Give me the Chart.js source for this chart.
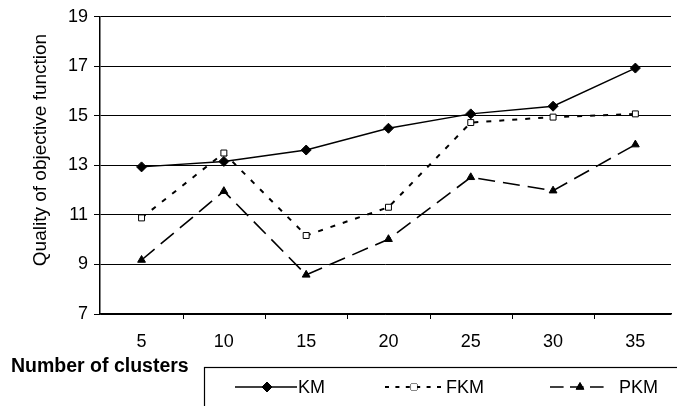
<!DOCTYPE html>
<html>
<head>
<meta charset="utf-8">
<script src="https://cdn.jsdelivr.net/npm/chart.js@4"></script>
<style>
  html, body { margin: 0; padding: 0; background: #fff; overflow: hidden; }
</style>
</head>
<body>
<canvas id="quality-chart" width="677" height="406"></canvas>
<script>
const clusters = [5, 10, 15, 20, 25, 30, 35];
const kmValues = [12.94, 13.16, 13.62, 14.5, 15.08, 15.39, 16.93];
const fkmValues = [10.88, 13.5, 10.17, 11.31, 14.73, 14.95, 15.08];
const pkmValues = [9.18, 11.96, 8.58, 10.02, 12.52, 11.98, 13.84];
const yTicks = [7, 9, 11, 13, 15, 17, 19];
// tick marks sit between the cluster labels
const xTickMarks = [7.5, 12.5, 17.5, 22.5, 27.5, 32.5];

const font = 'Arial, "Liberation Sans", sans-serif';

const series = [
    { label: 'KM', data: kmValues, dash: [], width: 1.4, point: 'rectRot', radius: 5, fill: '#000' },
    { label: 'FKM', data: fkmValues, dash: [5, 8], width: 2, point: 'rect', radius: 4.2, fill: '#fff' },
    { label: 'PKM', data: pkmValues, dash: [17, 8], width: 1.6, point: 'triangle', radius: 4.5, fill: '#000' }
];

// axis titles, x tick marks and the boxed legend
const decorations = {
    id: 'decorations',
    afterDraw(chart) {
        const ctx = chart.ctx;
        const xs = chart.scales.x;
        ctx.save();

        ctx.strokeStyle = '#000';
        ctx.lineWidth = 1;
        xTickMarks.forEach(v => {
            const px = Math.round(xs.getPixelForValue(v)) + 0.5;
            ctx.beginPath();
            ctx.moveTo(px, xs.top);
            ctx.lineTo(px, xs.top + 5);
            ctx.stroke();
        });

        ctx.fillStyle = '#000';
        ctx.textBaseline = 'middle';

        ctx.save();
        ctx.translate(41, 150);
        ctx.rotate(-Math.PI / 2);
        ctx.textAlign = 'center';
        ctx.font = '19px ' + font;
        ctx.fillText('Quality of objective function', 0, 0);
        ctx.restore();

        ctx.font = 'bold 19.5px ' + font;
        ctx.fillText('Number of clusters', 11, 367);

        ctx.lineWidth = 1.2;
        ctx.strokeRect(204.5, 367.5, 520, 60);

        const items = [
            { x0: 235, x1: 297, mx: 267, tx: 298 },
            { x0: 385, x1: 444, mx: 414, tx: 446 },
            { x0: 550, x1: 610, mx: 580, tx: 619 }
        ];
        const y = 387;
        items.forEach((it, i) => {
            const s = series[i];
            ctx.setLineDash(s.dash.map(d => d * 0.8));
            ctx.lineWidth = s.width;
            ctx.beginPath();
            ctx.moveTo(it.x0, y);
            ctx.lineTo(it.x1, y);
            ctx.stroke();
            ctx.setLineDash([]);
            ctx.lineWidth = 1;
            ctx.fillStyle = s.fill;
            Chart.helpers.drawPoint(ctx, { pointStyle: s.point, radius: s.radius, rotation: 0, borderWidth: 1 }, it.mx, y);
            ctx.fill();
            ctx.fillStyle = '#000';
            ctx.font = '18px ' + font;
            ctx.fillText(s.label, it.tx, y + 1);
        });
        ctx.restore();
    }
};

new Chart(document.getElementById('quality-chart'), {
    type: 'line',
    data: {
        datasets: series.map(s => ({
            label: s.label,
            data: s.data.map((v, i) => ({ x: clusters[i], y: v })),
            borderColor: '#000',
            borderWidth: s.width,
            borderDash: s.dash,
            pointStyle: s.point,
            pointRadius: s.radius,
            pointBackgroundColor: s.fill,
            pointBorderColor: '#000',
            pointBorderWidth: 1,
            tension: 0,
            fill: false
        }))
    },
    options: {
        responsive: false,
        animation: false,
        layout: { padding: { top: 15, right: 0, left: 0, bottom: 0 } },
        plugins: {
            legend: { display: false },
            tooltip: { enabled: false }
        },
        scales: {
            x: {
                type: 'linear',
                // the plot runs a little past the right edge of the picture
                min: 2.475,
                max: 37.165,
                afterFit: scale => { scale.height = 92; },
                afterBuildTicks: scale => { scale.ticks = clusters.map(v => ({ value: v })); },
                grid: {
                    drawOnChartArea: false,
                    drawTicks: false,
                    tickLength: 5
                },
                border: { color: '#000', width: 1.5 },
                ticks: {
                    color: '#000',
                    font: { family: font, size: 18 },
                    padding: 17,
                    maxRotation: 0
                }
            },
            y: {
                min: 7,
                max: 19,
                afterFit: scale => { scale.width = 100; },
                afterBuildTicks: scale => { scale.ticks = yTicks.map(v => ({ value: v })); },
                grid: {
                    color: '#000',
                    lineWidth: 1,
                    tickLength: 6
                },
                border: { color: '#000', width: 1.5 },
                ticks: {
                    color: '#000',
                    font: { family: font, size: 18 },
                    padding: 6
                }
            }
        }
    },
    plugins: [decorations]
});
</script>
</body>
</html>
